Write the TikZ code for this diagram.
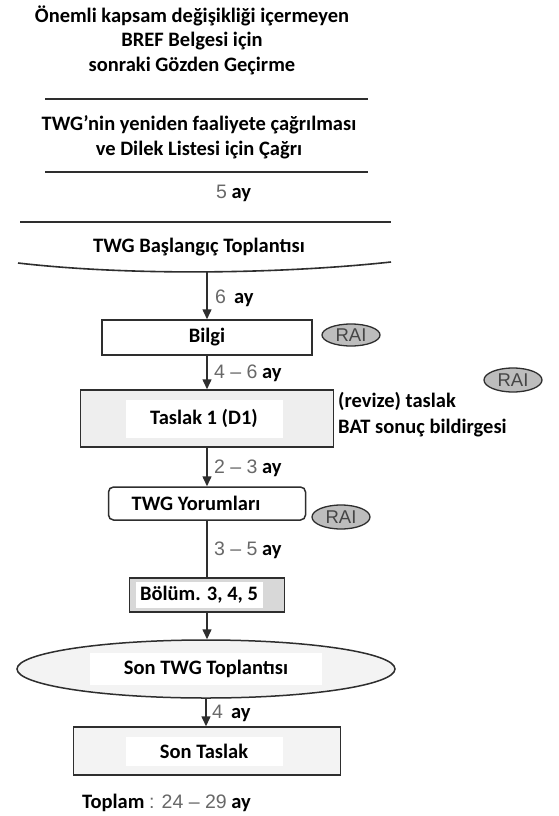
\documentclass[tikz,border=0pt]{standalone}
\usepackage{fontspec}
\setmainfont{Carlito}
\newfontfamily\numfont{Liberation Sans}
\usetikzlibrary{shapes.geometric,arrows.meta}
\definecolor{linec}{HTML}{2E2E2E}
\definecolor{numc}{HTML}{686868}
\definecolor{fillA}{HTML}{EEEEEE}
\definecolor{fillB}{HTML}{D8D8D8}
\definecolor{fillC}{HTML}{F3F3F3}
\definecolor{raifill}{HTML}{BDBDBD}
\definecolor{raitext}{HTML}{454545}
\newcommand{\nm}[1]{{\numfont\mdseries\fontsize{19.5}{22}\selectfont\color{numc}#1}}
\newcommand{\wbox}[3]{{\setlength{\fboxsep}{0pt}\colorbox{white}{\parbox[c][#2][c]{#1}{\centering #3}}}}
\tikzset{
  txt/.style={font=\fontsize{20.5}{24.5}\selectfont\bfseries, align=center, inner sep=0pt, text=black},
  lbl/.style={font=\fontsize{20.5}{24.5}\selectfont\bfseries, inner sep=0pt, anchor=west, text=black},
  sep/.style={draw=linec, line width=1.6pt},
  flow/.style={draw=linec, line width=1.5pt},
  arr/.style={flow, -{Triangle[length=10pt,width=9pt]}},
  stepbox/.style={draw=linec, line width=1.5pt, inner sep=0pt, font=\fontsize{20.5}{24.5}\selectfont\bfseries},
  rai/.style={ellipse, draw=linec, line width=1.3pt, fill=raifill, inner sep=0pt,
    minimum width=58pt, minimum height=22pt, font=\numfont\fontsize{18.5}{20}\selectfont, text=raitext}
}
\begin{document}
\begin{tikzpicture}[x=1pt,y=-1pt]
\useasboundingbox (0,0) rectangle (559,816);
\fill[white] (0,0) rectangle (559,816);

% header
\node[txt] (title) at (192,40) {Önemli kapsam değişikliği içermeyen\\BREF Belgesi için\\sonraki Gözden Geçirme};
\draw[sep] (45,99) -- (368,99);
\node[txt] (call) at (199,137.5) {TWG’nin yeniden faaliyete çağrılması\\ve Dilek Listesi için Çağrı};
\draw[sep] (45,172) -- (368,172);
\node[lbl] (l5) at (216,193) {\nm{5} ay};
\draw[sep] (20,222) -- (391,222);
\node[txt] (kick) at (199,247) {TWG Başlangıç Toplantısı};
\draw[sep] (18,263) .. controls (130,276) and (280,274) .. (391,262);
\coordinate (kickb) at (207,272);

% boxes
\node[stepbox, minimum width=210pt, minimum height=35pt] (bilgi) at (207,337.5) {Bilgi};
\node[rai] (rai1) at (351,335) {RAI};

\node[stepbox, fill=fillA, minimum width=253pt, minimum height=57pt] (taslak) at (207,418.5)
  {\wbox{157pt}{38pt}{Taslak 1 (D1)}\hspace*{6pt}};
\node[lbl, align=left, font=\fontsize{20.5}{26}\selectfont\bfseries] (bat) at (338,415) {(revize) taslak\\BAT sonuç bildirgesi};
\node[rai, minimum height=24pt] (rai2) at (513,380) {RAI};

\node[stepbox, rounded corners=5pt, minimum width=197pt, minimum height=33pt] (yorum) at (207,503.5)
  {TWG Yorumları\hspace*{22pt}};
\node[rai, minimum height=24pt] (rai3) at (341,517) {RAI};

\node[stepbox, fill=fillB, minimum width=155pt, minimum height=34pt] (bolum) at (207,595)
  {\wbox{127pt}{26pt}{Bölüm. 3, 4, 5}\hspace*{16pt}};

\node[stepbox, ellipse, fill=fillC, minimum width=378pt, minimum height=58pt] (son) at (206,669)
  {\wbox{232pt}{32pt}{Son TWG Toplantısı}};

\node[stepbox, fill=fillC, minimum width=267pt, minimum height=48pt] (final) at (207,751)
  {\wbox{157pt}{29pt}{Son Taslak}\hspace*{6pt}};

% connectors
\draw[arr] (kickb) -- (bilgi.north);
\draw[arr] (bilgi.south) -- (taslak.north);
\draw[arr] (taslak.south) -- (yorum.north);
\draw[flow] (yorum.south) -- (bolum.north);
\draw[arr] (bolum.south) -- (bolum.south |- son.north);
\draw[arr] (son.south) -- (son.south |- final.north);

% labels
\node[lbl] (d1) at (215,298) {\nm{6} \,ay};
\node[lbl] (d2) at (214,373) {\nm{4 – 6} ay};
\node[lbl] (d3) at (214,468) {\nm{2 – 3} ay};
\node[lbl] (d4) at (214,550) {\nm{3 – 5} ay};
\node[lbl] (d5) at (212,713) {\nm{4} \,ay};
\node[lbl] (total) at (82,803) {Toplam \nm{: 24 – 29} ay};
\end{tikzpicture}
\end{document}
